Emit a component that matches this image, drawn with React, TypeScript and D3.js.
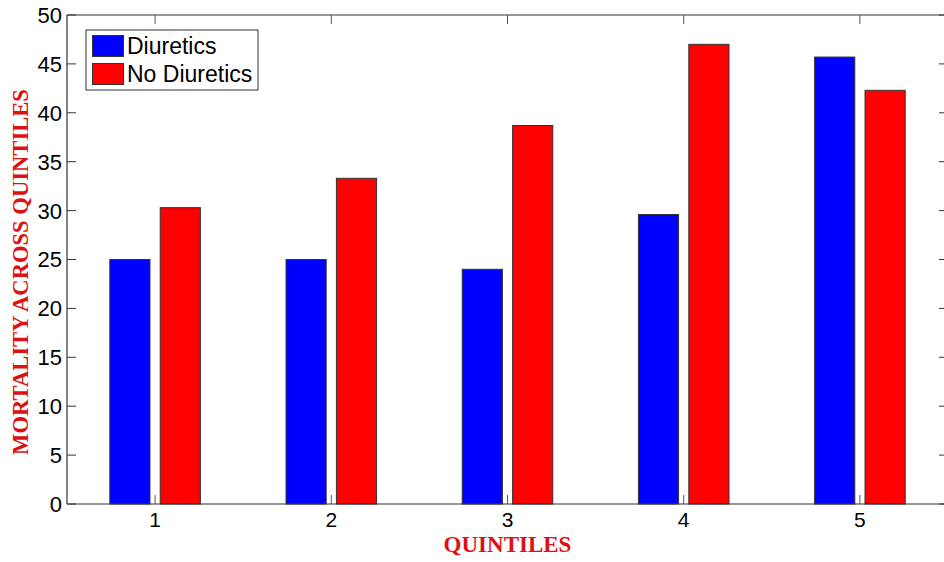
import React from "react";
import * as d3 from "d3";

const categories = ["1", "2", "3", "4", "5"];
const diuretics = [25.0, 25.0, 24.0, 29.6, 45.7];
const noDiuretics = [30.3, 33.3, 38.7, 47.0, 42.3];
const yTicks = [0, 5, 10, 15, 20, 25, 30, 35, 40, 45, 50];
const seriesNames = ["Diuretics", "No Diuretics"];
const seriesColors = ["#0000ff", "#ff0000"];

const W = 944, H = 562;
const M = { left: 67, top: 15, bottom: 504 };

export default function App() {
  const x = d3.scaleLinear().domain([0.5, 5.5]).range([M.left, M.left + 881]);
  const y = d3.scaleLinear().domain([0, 50]).range([M.bottom, M.top]);
  const unit = x(2) - x(1);
  const bw = unit * 0.228;
  const off = unit * 0.143;
  const right = x(5.5);
  const font = "'Liberation Sans', Arial, sans-serif";
  const serif = "'Liberation Serif', 'Times New Roman', serif";
  const series = [diuretics, noDiuretics];
  return (
    <svg width={W} height={H} style={{ position: "absolute", left: 0, top: 0, background: "#fff" }}>
      {series.map((vals, si) =>
        vals.map((v, i) => {
          const cx = x(i + 1) + (si === 0 ? -off : off);
          return (
            <rect key={`${si}-${i}`} x={cx - bw / 2} y={y(v)} width={bw} height={y(0) - y(v)}
              fill={seriesColors[si]} stroke="#333" strokeWidth={1} />
          );
        })
      )}
      <line x1={M.left} x2={right} y1={M.top} y2={M.top} stroke="#333" strokeWidth={1.2} />
      <line x1={M.left} x2={right} y1={M.bottom} y2={M.bottom} stroke="#333" strokeWidth={1.2} />
      <line x1={M.left} x2={M.left} y1={M.top} y2={M.bottom} stroke="#333" strokeWidth={1.2} />
      <line x1={right} x2={right} y1={M.top} y2={M.bottom} stroke="#333" strokeWidth={1.2} />
      {yTicks.map((t) => (
        <g key={t}>
          <line x1={M.left} x2={M.left + 9} y1={y(t)} y2={y(t)} stroke="#333" />
          <line x1={right - 9} x2={right} y1={y(t)} y2={y(t)} stroke="#333" />
          <text x={M.left - 5} y={y(t)} dy="0.36em" textAnchor="end" fontFamily={font} fontSize={22} fill="#000">{t}</text>
        </g>
      ))}
      {categories.map((c, i) => (
        <g key={c}>
          <line x1={x(i + 1)} x2={x(i + 1)} y1={M.bottom} y2={M.bottom - 9} stroke="#555" />
          <line x1={x(i + 1)} x2={x(i + 1)} y1={M.top} y2={M.top + 9} stroke="#555" />
          <text x={x(i + 1)} y={527} textAnchor="middle" fontFamily={font} fontSize={21} fill="#000">{c}</text>
        </g>
      ))}
      <text x={x(3)} y={552} textAnchor="middle" fontFamily={serif} fontWeight="bold" fontSize={23} fill="#dd1111">QUINTILES</text>
      <text transform={`translate(28, 272) rotate(-90)`} textAnchor="middle"
        fontFamily={serif} fontWeight="bold" fontSize={22.6} fill="#dd1111">MORTALITY ACROSS QUINTILES</text>
      <rect x={86} y={30} width={172} height={60} fill="#fff" stroke="#333" />
      {seriesNames.map((n, i) => (
        <g key={n}>
          <rect x={92.5} y={35.5 + i * 28} width={31} height={21} fill={seriesColors[i]} stroke="#333" />
          <text x={127} y={54 + i * 28} fontFamily={font} fontSize={23} fill="#000">{n}</text>
        </g>
      ))}
    </svg>
  );
}
